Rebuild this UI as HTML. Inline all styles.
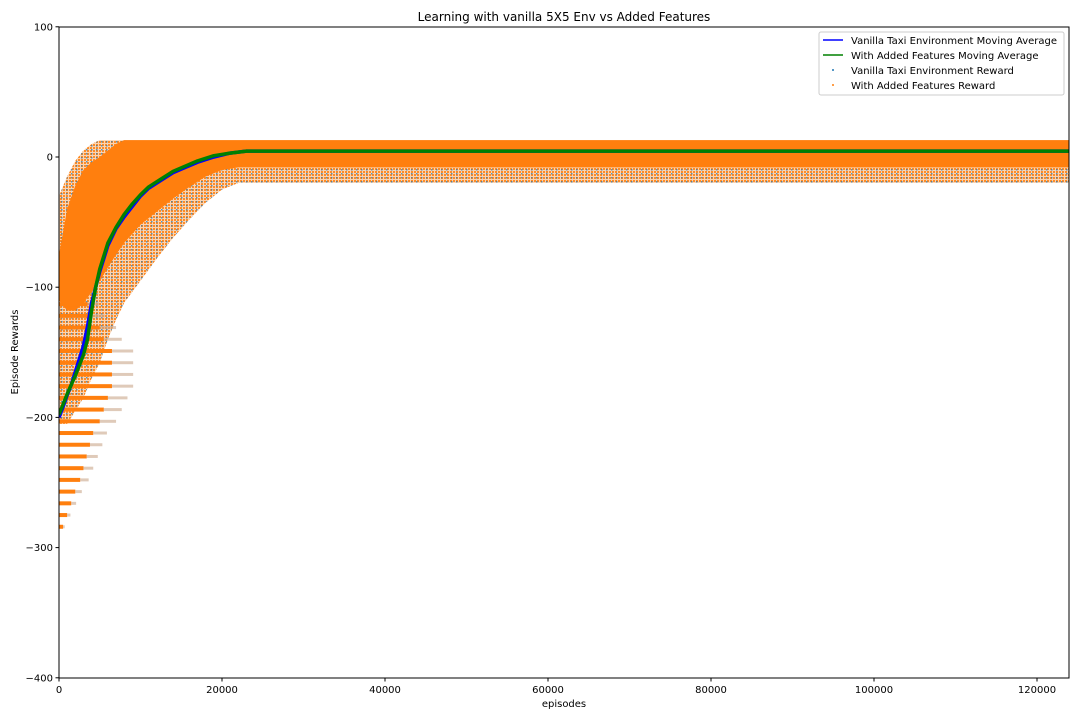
<!DOCTYPE html>
<html><head><meta charset="utf-8"><style>
body{margin:0;background:#fff;}
svg text{font-family:"DejaVu Sans","Liberation Sans",sans-serif;font-size:10px;fill:#000;}
</style></head><body>
<svg id="chart" width="1080" height="720" xmlns="http://www.w3.org/2000/svg">
<defs>
<pattern id="dotsB" width="5" height="4" patternUnits="userSpaceOnUse"><rect x="1" y="1" width="1.5" height="1.5" fill="#1f77b4" opacity="0.7"/></pattern>
<pattern id="dotsO" width="3" height="3" patternUnits="userSpaceOnUse"><rect x="0" y="0" width="2" height="2" fill="#ff7f0e" opacity="0.85"/></pattern>
<clipPath id="plotclip"><rect x="59" y="27" width="1010" height="651"/></clipPath>
</defs>
<g id="plot" clip-path="url(#plotclip)"></g>
<g id="axes"></g>
</svg>
<script>
const episodes   = [0,1000,2000,3000,4000,5000,6000,7000,8000,10000,12000,14000,16000,18000,20000,22000,25000,124000];
const sparseTop  = [-30,-15,-3,5,10,13,13,13,13,13,13,13,13,13,13,13,13,13];
const denseTop   = [-75,-40,-22,-10,-4,0,5,10,13,13,13,13,13,13,13,13,13,13];
const denseLow   = [-110,-118,-118,-112,-104,-95,-85,-75,-66,-52,-42,-32,-23,-15,-10,-8,-8,-8];
const sparseLow  = [-205,-205,-195,-185,-170,-158,-140,-125,-112,-95,-78,-62,-48,-35,-25,-20,-20,-20];
const stripeLevels = [-113,-122,-131,-140,-149,-158,-167,-176,-185,-194,-203,-212,-221,-230,-239,-248,-257,-266,-275,-284];
const stripeEnds   = [3500,4000,5000,5500,6500,6500,6500,6500,6000,5500,5000,4200,3800,3400,3000,2600,2000,1500,1000,500];
const maEpisodes = [0,500,1000,1500,2000,2500,3000,3500,4000,4500,5000,5500,6000,7000,8000,9000,10000,11000,12500,14000,15500,17000,19000,21000,23000,30000,60000,90000,124000];
const maVanilla  = [-200,-192,-183,-175,-165,-155,-145,-130,-112,-100,-88,-78,-68,-55,-46,-38,-30,-24,-18,-12,-8,-4,0,3,4.5,4.5,4.5,4.5,4.5];
const maFeatures = [-198,-190,-182,-175,-168,-160,-152,-140,-118,-100,-86,-76,-66,-54,-44,-36,-29,-23,-17,-11,-7,-3,1,3,4.5,4.5,4.5,4.5,4.5];
const xTicks = [0,20000,40000,60000,80000,100000,120000];
const yTicks = [100,0,-100,-200,-300,-400];

const X0=59,X1=1069,Y0=27,Y1=678;
const xs = e => X0 + e*(1037-59)/120000;
const ys = r => 157 - r*(678-27)/500;
const NS="http://www.w3.org/2000/svg";
const plot=document.getElementById('plot'), axes=document.getElementById('axes');
function mk(tag,attrs,parent){const el=document.createElementNS(NS,tag);for(const k in attrs)el.setAttribute(k,attrs[k]);parent.appendChild(el);return el;}
function band(top,low){let p=episodes.map((e,i)=>xs(e)+','+ys(top[i]));for(let i=episodes.length-1;i>=0;i--)p.push(xs(episodes[i])+','+ys(low[i]));return p.join(' ');}

const sf=mk('polygon',{points:band(sparseTop,sparseLow),fill:'#f7c9a0',opacity:'0.8'},plot);


const so=mk('polygon',{points:band(sparseTop,sparseLow),fill:'url(#dotsO)'},plot);


const sb=mk('polygon',{points:band(sparseTop,sparseLow),fill:'url(#dotsB)'},plot);


const db=mk('polygon',{points:band(denseTop,denseLow),fill:'#ff7f0e'},plot);


stripeLevels.forEach((lv,i)=>{
  const s=mk('rect',{x:X0,y:ys(lv)-2,width:xs(stripeEnds[i])-X0,height:4,fill:'#ff7f0e'},plot);
  
  
  const t=mk('rect',{x:xs(stripeEnds[i]),y:ys(lv)-1.5,width:xs(stripeEnds[i]*0.4)-X0,height:3,fill:'#c9a68a',opacity:'0.6'},plot);
  
  
});
function line(vals,color,name){
  const el=mk('polyline',{points:maEpisodes.map((e,i)=>xs(e)+','+ys(vals[i])).join(' '),fill:'none',stroke:color,'stroke-width':3.5,'stroke-linejoin':'round'},plot);
  
  
}
line(maVanilla,'#0000ff','vanilla-moving-average');
line(maFeatures,'#008000','features-moving-average');

const frame=mk('rect',{x:X0,y:Y0,width:X1-X0,height:Y1-Y0,fill:'none',stroke:'#000','stroke-width':1},axes);


xTicks.forEach(v=>{
  mk('line',{x1:xs(v),x2:xs(v),y1:Y1,y2:Y1+3.5,stroke:'#000'},axes);
  const t=mk('text',{x:xs(v),y:Y1+15,'text-anchor':'middle'},axes);t.textContent=v;
  
  
});
yTicks.forEach(v=>{
  mk('line',{x1:X0-3.5,x2:X0,y1:ys(v),y2:ys(v),stroke:'#000'},axes);
  const t=mk('text',{x:X0-6,y:ys(v)+3.5,'text-anchor':'end'},axes);t.textContent=String(v).replace('-','\u2212');
  
  
});
</script>
<svg style="position:absolute;left:0;top:0" width="1080" height="720" xmlns="http://www.w3.org/2000/svg">
<text x="564" y="21" text-anchor="middle" style="font-size:12px">Learning with vanilla 5X5 Env vs Added Features</text>
<text x="564" y="707" text-anchor="middle">episodes</text>
<text x="18" y="352" text-anchor="middle" transform="rotate(-90 18 352)">Episode Rewards</text>
<g>
<rect x="819" y="32" width="245" height="63" rx="2" fill="#fff" fill-opacity="0.85" stroke="#ccc"/>
<line x1="823" y1="40" x2="843" y2="40" stroke="#0000ff" stroke-width="1.6"/>
<text x="851" y="44">Vanilla Taxi Environment Moving Average</text>
<line x1="823" y1="55" x2="843" y2="55" stroke="#008000" stroke-width="1.6"/>
<text x="851" y="59">With Added Features Moving Average</text>
<circle cx="833" cy="70" r="1" fill="#1f77b4"/>
<text x="851" y="74">Vanilla Taxi Environment Reward</text>
<circle cx="833" cy="85" r="1" fill="#ff7f0e"/>
<text x="851" y="89">With Added Features Reward</text>
</g>
</svg>
</body></html>
